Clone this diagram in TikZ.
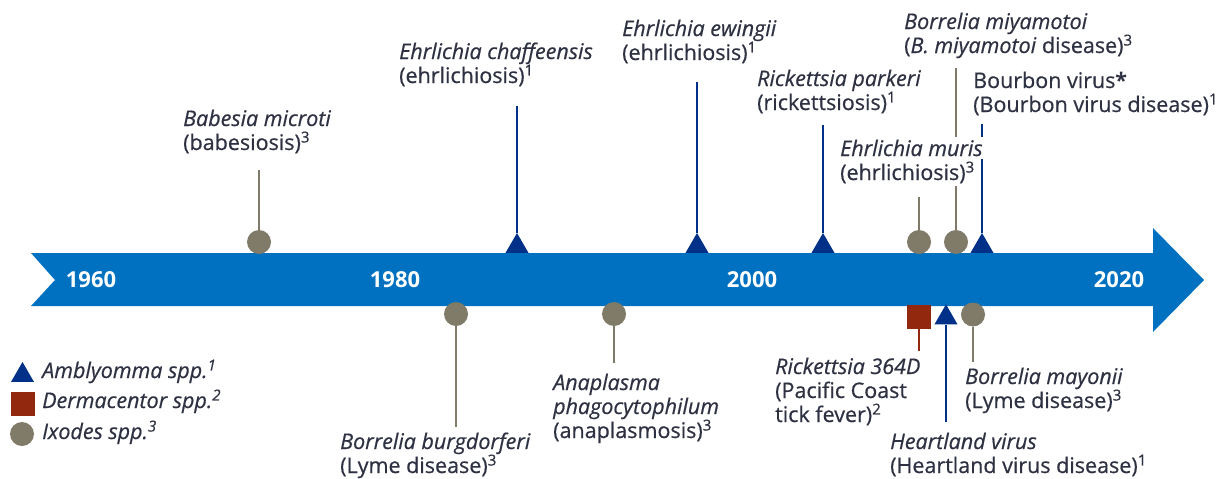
\documentclass[tikz,border=0pt]{standalone}
\usepackage{fontspec}
\setmainfont{Open Sans}[UprightFeatures={FakeBold=0.6},ItalicFeatures={FakeBold=0.6}]
\usetikzlibrary{shapes.geometric}
\definecolor{qqwwcc}{RGB}{0,113,192}
\definecolor{qqddaa}{RGB}{0,48,135}
\definecolor{ggffdd}{RGB}{128,122,104}
\definecolor{ssccaa}{RGB}{146,40,14}
\definecolor{ddddee}{RGB}{46,49,66}
\tikzset{
  amb/.style={regular polygon,regular polygon sides=3,fill=qqddaa,minimum size=26.6pt,inner sep=0pt},
  der/.style={rectangle,fill=ssccaa,minimum size=24pt,inner sep=0pt},
  ixo/.style={circle,fill=ggffdd,minimum size=24pt,inner sep=0pt},
  ambline/.style={draw=qqddaa,line width=2.4pt},
  derline/.style={draw=ssccaa,line width=2.4pt},
  ixoline/.style={draw=ggffdd,line width=2.4pt},
  lbl/.style={anchor=base west,align=left,inner sep=0pt,text=ddddee,font=\fontsize{21.5}{24}\selectfont},
  yr/.style={text=white,font=\fontsize{22}{24}\selectfont\bfseries}
}

\begin{document}
\begin{tikzpicture}[line join=round,x=1pt,y=-1pt]
			\useasboundingbox (0,0) rectangle (1221,479);
			% timeline band
			\fill[color=qqwwcc] (31,253) -- (1153,253) -- (1153,228) -- (1204,280) -- (1153,332) -- (1153,306) -- (31,306) -- (55,280) -- cycle;
			\foreach \x/\y in {91/1960,395/1980,752/2000,1119/2020}
				\node[yr] (y\y) at (\x,280) {\y};

			% markers above the band
			\node[ixo] (bab) at (259,242) {};
			\node[amb] (cha) at (517,246.3) {};
			\node[amb] (ewi) at (697,246.3) {};
			\node[amb] (par) at (823,246.3) {};
			\node[ixo] (mur) at (919,242) {};
			\node[ixo] (miy) at (956,242) {};
			\node[amb] (bou) at (982,246.3) {};

			% markers below the band
			\node[ixo] (bur) at (456,314) {};
			\node[ixo] (ana) at (614,314) {};
			\node[der] (ric) at (919,317) {};
			\node[amb] (hea) at (946,317.7) {};
			\node[ixo] (may) at (973,314.5) {};

			% stems
			\coordinate (babT) at (259,170);
			\coordinate (chaT) at (517,106);
			\coordinate (ewiT) at (697,82);
			\coordinate (parT) at (823,125);
			\coordinate (murT) at (919,197);
			\coordinate (miyT) at (956,68);
			\coordinate (bouT) at (982,124);
			\coordinate (burB) at (456,427);
			\coordinate (anaB) at (614,363);
			\coordinate (ricB) at (919,351);
			\coordinate (heaB) at (946,422);
			\coordinate (mayB) at (973,362);
			\draw[ixoline] (babT) -- (bab);
			\draw[ambline] (chaT) -- (cha);
			\draw[ambline] (ewiT) -- (ewi);
			\draw[ambline] (parT) -- (par);
			\draw[ixoline] (murT) -- (mur);
			\draw[ixoline] (miyT) -- (miy);
			\draw[ambline] (bouT) -- (bou);
			\draw[ixoline] (bur) -- (burB);
			\draw[ixoline] (ana) -- (anaB);
			\draw[derline] (ric) -- (ricB);
			\draw[ambline] (hea) -- (heaB);
			\draw[ixoline] (may) -- (mayB);

			% labels above (anchored on the last line)
			\node[lbl] (babL) at (183,150) {\textit{Babesia microti}\\(babesiosis)\textsuperscript{3}};
			\node[lbl] (chaL) at (399,83) {\textit{Ehrlichia chaffeensis}\\(ehrlichiosis)\textsuperscript{1}};
			\node[lbl] (ewiL) at (622,60) {\textit{Ehrlichia ewingii}\\(ehrlichiosis)\textsuperscript{1}};
			\node[lbl] (parL) at (757,110) {\textit{Rickettsia parkeri}\\(rickettsiosis)\textsuperscript{1}};
			\node[lbl] (miyL) at (904,53) {\textit{Borrelia miyamotoi}\\(\textit{B. miyamotoi} disease)\textsuperscript{3}};
			\node[lbl] (bouL) at (973,112) {Bourbon virus\textbf{*}\\(Bourbon virus disease)\textsuperscript{1}};
			\node[lbl,fill=white,inner sep=3pt] (murL) at (837,156) {\textit{Ehrlichia muris}};
			\node[lbl,fill=white,inner sep=3pt] (murL2) at (837,180) {(ehrlichiosis)\textsuperscript{3}};

			% labels below
			\node[lbl] (burL) at (340,473) {\textit{Borrelia burgdorferi}\\(Lyme disease)\textsuperscript{3}};
			\node[lbl] (anaL) at (553,438) {\textit{Anaplasma}\\\textit{phagocytophilum}\\(anaplasmosis)\textsuperscript{3}};
			\node[lbl] (ricL) at (775,422) {\textit{Rickettsia 364D}\\(Pacific Coast\\tick fever)\textsuperscript{2}};
			\node[lbl] (heaL) at (890,473) {\textit{Heartland virus}\\(Heartland virus disease)\textsuperscript{1}};
			\node[lbl] (mayL) at (965,408) {\textit{Borrelia mayonii}\\(Lyme disease)\textsuperscript{3}};

			% legend
			\node[amb] (lgA) at (22.5,375.3) {};
			\node[der] (lgD) at (23,403.5) {};
			\node[ixo] (lgI) at (22,434) {};
			\node[lbl] (lgAL) at (42,378) {\textit{Amblyomma spp.\textsuperscript{1}}};
			\node[lbl] (lgDL) at (42,408) {\textit{Dermacentor spp.\textsuperscript{2}}};
			\node[lbl] (lgIL) at (42,439) {\textit{Ixodes spp.\textsuperscript{3}}};
		\end{tikzpicture}
\end{document}
